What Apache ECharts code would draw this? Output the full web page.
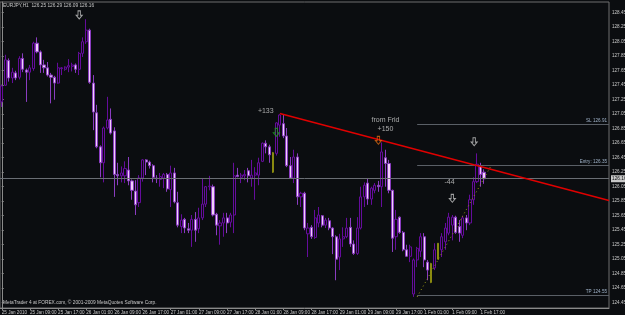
<!DOCTYPE html>
<html><head><meta charset="utf-8">
<script src="https://cdn.jsdelivr.net/npm/echarts@6/dist/echarts.min.js"></script>
<style>html,body{margin:0;padding:0;background:#0b0d10;}#c{width:625px;height:315px;}</style>
</head><body><div id="c"></div>
<script>
// ---- data (EURJPY, H1) ----
const opens=[127.22,127.45,127.79,127.55,127.62,127.56,127.82,127.66,127.63,127.68,
128.03,127.91,127.73,127.69,127.59,127.56,127.48,127.68,127.67,127.70,
127.71,127.73,127.67,127.89,128.05,128.21,127.48,127.07,126.60,126.38,
126.86,126.98,126.82,126.22,126.20,126.20,126.28,126.13,125.99,125.83,
126.17,126.42,126.39,126.34,126.17,126.15,126.17,126.22,126.01,126.24,
125.83,125.50,125.60,125.47,125.45,125.60,125.47,125.62,125.81,126.05,
126.05,125.67,125.51,125.55,125.62,125.56,125.66,126.21,126.18,126.20,
126.27,126.17,126.21,126.21,126.40,126.65,126.60,126.52,126.51,126.90,
126.92,126.75,126.34,126.17,126.46,125.91,125.96,125.40,125.49,125.35,
125.55,125.65,125.52,125.58,125.48,125.36,125.08,125.33,125.36,125.49,
125.26,125.13,125.48,125.91,126.10,125.88,126.00,126.07,126.05,126.45,
126.37,126.00,125.36,125.63,125.42,125.18,125.09,124.57,125.04,125.16,
125.36,125.01,124.99,124.93,125.27,125.18,125.29,125.41,125.52,125.63,
125.50,125.38,125.62,125.55,125.87,126.12,126.33,126.25];
const highs=[127.46,127.87,127.82,127.69,127.65,127.85,127.89,127.68,127.73,128.05,
128.11,127.93,127.80,127.77,127.62,127.58,127.76,127.70,127.71,127.81,
127.76,127.75,127.91,128.11,128.36,128.23,127.59,127.18,126.62,126.88,
127.29,127.13,126.87,126.38,126.33,126.40,126.46,126.15,126.14,126.21,
126.43,126.43,126.41,126.36,126.21,126.24,126.24,126.24,126.34,126.31,
125.98,125.67,125.62,125.55,125.66,125.70,125.76,126.16,126.06,126.20,
126.08,125.69,125.59,125.69,125.69,125.69,126.38,126.31,126.24,126.28,
126.31,126.42,126.32,126.45,126.66,126.69,126.63,126.53,126.94,127.05,
127.04,126.86,126.46,126.56,126.51,125.98,125.98,125.55,125.52,125.73,
125.77,125.66,125.62,125.62,125.49,125.38,125.40,125.49,125.62,125.62,
125.31,125.63,126.05,126.11,126.17,126.05,126.10,126.13,126.66,126.56,
126.42,126.01,125.73,125.64,125.44,125.25,125.25,125.06,125.22,125.41,
125.41,125.04,125.00,125.27,125.27,125.41,125.55,125.69,125.66,125.65,
125.59,125.65,125.66,125.94,126.18,126.51,126.38,126.29];
const lows=[127.15,127.44,127.50,127.48,127.52,127.53,127.63,127.22,127.52,127.65,
127.89,127.62,127.62,127.57,127.20,127.25,127.47,127.59,127.65,127.63,
127.64,127.62,127.59,127.84,128.02,127.47,126.83,126.58,126.18,126.11,
126.84,126.77,125.91,126.07,126.11,126.10,126.07,125.87,125.66,125.77,
126.12,126.21,126.30,126.11,126.10,126.05,126.03,125.98,125.77,125.82,
125.49,125.41,125.41,125.41,125.22,125.29,125.41,125.59,125.77,126.00,
125.64,125.38,125.25,125.36,125.41,125.49,125.41,126.18,126.10,126.14,
126.11,126.05,125.87,126.07,126.39,126.51,126.38,126.24,126.48,126.74,
126.72,126.32,126.16,126.10,125.80,125.77,125.45,125.08,125.33,125.33,
125.49,125.49,125.48,125.45,125.12,124.76,124.90,125.22,125.34,125.22,
125.11,125.11,125.46,125.77,125.80,125.80,125.96,125.98,125.77,126.05,
125.96,125.15,125.18,125.40,125.16,125.08,125.01,124.53,124.94,125.08,
124.94,124.76,124.72,124.90,125.04,125.08,125.18,125.38,125.31,125.40,
125.29,125.34,125.45,125.52,125.80,126.10,126.05,126.09];
const closes=[127.44,127.80,127.55,127.63,127.55,127.82,127.67,127.63,127.69,128.03,
127.91,127.73,127.69,127.59,127.56,127.48,127.69,127.69,127.70,127.72,
127.73,127.67,127.89,128.05,128.21,127.49,127.08,126.60,126.38,126.86,
126.97,126.79,126.22,126.20,126.24,126.30,126.13,126.00,125.80,126.17,
126.42,126.39,126.34,126.18,126.16,126.19,126.22,126.02,126.24,125.84,
125.52,125.59,125.48,125.45,125.60,125.45,125.62,125.81,126.05,126.06,
125.66,125.52,125.55,125.62,125.55,125.66,126.20,126.19,126.21,126.22,
126.20,126.21,126.24,126.38,126.65,126.60,126.49,126.25,126.93,127.04,
126.75,126.34,126.17,126.46,125.91,125.96,125.48,125.48,125.36,125.62,
125.66,125.52,125.59,125.48,125.36,125.05,125.33,125.36,125.48,125.26,
125.13,125.48,125.91,126.07,125.88,126.03,126.07,126.05,126.53,126.37,
126.00,125.34,125.60,125.42,125.18,125.09,125.22,125.04,125.20,125.36,
125.04,124.90,124.73,125.18,125.05,125.36,125.48,125.63,125.63,125.42,
125.41,125.62,125.55,125.87,126.12,126.36,126.22,126.16];
const highlightBars=[77,122,124];
const xLabels=['25 Jan 2010','25 Jan 09:00','25 Jan 17:00','26 Jan 01:00','26 Jan 09:00','26 Jan 17:00',
'27 Jan 01:00','27 Jan 09:00','27 Jan 17:00','28 Jan 01:00','28 Jan 09:00','28 Jan 17:00',
'29 Jan 01:00','29 Jan 09:00','29 Jan 17:00','1 Feb 01:00','1 Feb 09:00','1 Feb 17:00'];
const labelEvery=8;
const slotCount=173;
const yTicks=[124.45,124.65,124.85,125.05,125.25,125.45,125.65,125.85,126.05,126.25,126.45,
126.65,126.85,127.05,127.25,127.45,127.65,127.85,128.05,128.25,128.45];
const yMin=124.377, yMax=128.598;
const titleText='EURJPY,H1  126.25 126.29 126.09 126.16';
const footerText='MetaTrader 4 at FOREX.com, © 2001-2009 MetaQuotes Software Corp.';
const currentPrice=126.16;
const levelNames=['SL 126.91','Entry: 126.35','TP 124.55'];
const levelValues=[126.91,126.35,124.55];
const levelStart=118;
const redTrend=[[79,127.06],[172.5,125.86]];
const yellowTrend=[[118,124.53],[139,126.34]];
const arrowsWhite=[[22,128.42],[134.2,126.67],[128,125.89]];
const arrowsGreen=[[78,126.80]];
const arrowsOrange=[[107,126.69]];
const noteX=[75,109,109,127.2];
const noteY=[127.09,126.97,126.84,126.11];
const noteText=['+133','from Frid','+150','-44'];

// ---- chart ----
const BG='#0b0d10', PURPLE='#650c9c', BEAR='#f0d0f8', OLIVE='#8a8a10';
const FONT='"Liberation Sans", Arial, sans-serif';
const cats=[]; for(let i=0;i<slotCount;i++) cats.push(String(i));
const isHi=(i)=>highlightBars.indexOf(i)>=0;
const mainData=opens.map((o,i)=> isHi(i)?'-':[o,closes[i],lows[i],highs[i]]);
const oliveData=opens.map((o,i)=> isHi(i)?[o,closes[i],lows[i],highs[i]]:'-');
const showLbl=(idx)=> idx%labelEvery===0 && idx/labelEvery<xLabels.length;
const arrowPath='path://M3,0 L7,0 L7,6 L10,6 L5,11 L0,6 L3,6 Z';
function arrowSeries(pts,color){
  return {type:'scatter',xAxisIndex:1,yAxisIndex:0,symbol:arrowPath,symbolSize:[6,8],
    itemStyle:{color:'rgba(0,0,0,0)',borderColor:color,borderWidth:1},data:pts,z:6,silent:true};
}
const levelLines=levelValues.map((v,k)=>[
  {coord:[levelStart,v],lineStyle:{color:'#5a5f66',width:1,type:'solid'},
   label:{show:true,position:'insideEndTop',formatter:levelNames[k],color:'#9fb2c8',fontSize:4.6,fontFamily:FONT,distance:[2,1]}},
  {coord:[172.5,v]}
]);
levelLines.push([
  {coord:[-0.5,currentPrice],lineStyle:{color:'#6a6e74',width:1,type:'solid'},
   label:{show:true,position:'end',formatter:currentPrice.toFixed(2),color:'#0b0d10',backgroundColor:'#c8c8c8',fontSize:4.8,fontFamily:FONT,padding:[1,1,1,1],distance:2}},
  {coord:[172.5,currentPrice]}
]);

const chart=echarts.init(document.getElementById('c'),null,{renderer:'canvas'});
chart.setOption({
  backgroundColor:BG,
  animation:false,
  textStyle:{fontFamily:FONT},
  title:[
    {text:titleText,left:3,top:3,padding:0,textStyle:{color:'#c8c8c8',fontSize:4.8,fontWeight:'normal',fontFamily:FONT}},
    {text:footerText,left:3,top:300,padding:0,textStyle:{color:'#c8c8c8',fontSize:4.8,fontWeight:'normal',fontFamily:FONT}}
  ],
  grid:{left:0,right:16,top:2,bottom:7,containLabel:false,outerBoundsMode:'none',show:true,borderColor:'#6e6e6e',borderWidth:1,backgroundColor:'transparent'},
  xAxis:[
    {type:'category',data:cats,boundaryGap:true,
     axisLine:{show:true,lineStyle:{color:'#8a8a8a'}},
     axisTick:{show:true,interval:(i)=>showLbl(i),alignWithLabel:true,length:2,lineStyle:{color:'#8a8a8a'}},
     axisLabel:{show:true,interval:(i)=>showLbl(i),formatter:(val)=>xLabels[Number(val)/labelEvery]||'',
       color:'#c8c8c8',fontSize:4.6,align:'left',margin:2,fontFamily:FONT,showMinLabel:true,hideOverlap:false},
     splitLine:{show:false}},
    {type:'value',min:-0.5,max:slotCount-0.5,show:false,gridIndex:0}
  ],
  yAxis:[{type:'value',position:'right',min:yMin,max:yMax,scale:true,
    axisLine:{show:true,lineStyle:{color:'#8a8a8a'}},
    axisTick:{show:true,customValues:yTicks,length:2,lineStyle:{color:'#8a8a8a'}},
    axisLabel:{show:true,customValues:yTicks,formatter:(v)=>v.toFixed(2),color:'#c8c8c8',fontSize:4.6,margin:3,fontFamily:FONT},
    splitLine:{show:false}}],
  series:[
    {type:'candlestick',xAxisIndex:0,yAxisIndex:0,data:mainData,barWidth:2.6,z:3,
     itemStyle:{color:BG,color0:BEAR,borderColor:PURPLE,borderColor0:'#8a3cc0',borderWidth:1}},
    {type:'candlestick',xAxisIndex:0,yAxisIndex:0,data:oliveData,barWidth:1.5,z:3,
     itemStyle:{color:OLIVE,color0:OLIVE,borderColor:OLIVE,borderColor0:OLIVE,borderWidth:1}},
    {type:'line',xAxisIndex:1,yAxisIndex:0,data:redTrend,symbol:'none',z:5,silent:true,
     lineStyle:{color:'#e00000',width:1.5}},
    {type:'line',xAxisIndex:1,yAxisIndex:0,data:yellowTrend,symbol:'none',z:5,silent:true,
     lineStyle:{color:'#9a9a14',width:1,type:[1,3]}},
    {type:'scatter',xAxisIndex:1,yAxisIndex:0,symbolSize:1,silent:true,z:7,
     itemStyle:{color:'rgba(0,0,0,0)'},
     data:noteX.map((x,k)=>[x,noteY[k],noteText[k]]),
     label:{show:true,position:'inside',formatter:(p)=>p.data[2],color:'#cfcfcf',fontSize:7,fontFamily:FONT},
     markLine:{silent:true,symbol:'none',animation:false,data:levelLines}},
    arrowSeries(arrowsWhite,'#c8c8c8'),
    arrowSeries(arrowsGreen,'#22a022'),
    arrowSeries(arrowsOrange,'#e06a10')
  ]
});
</script></body></html>
